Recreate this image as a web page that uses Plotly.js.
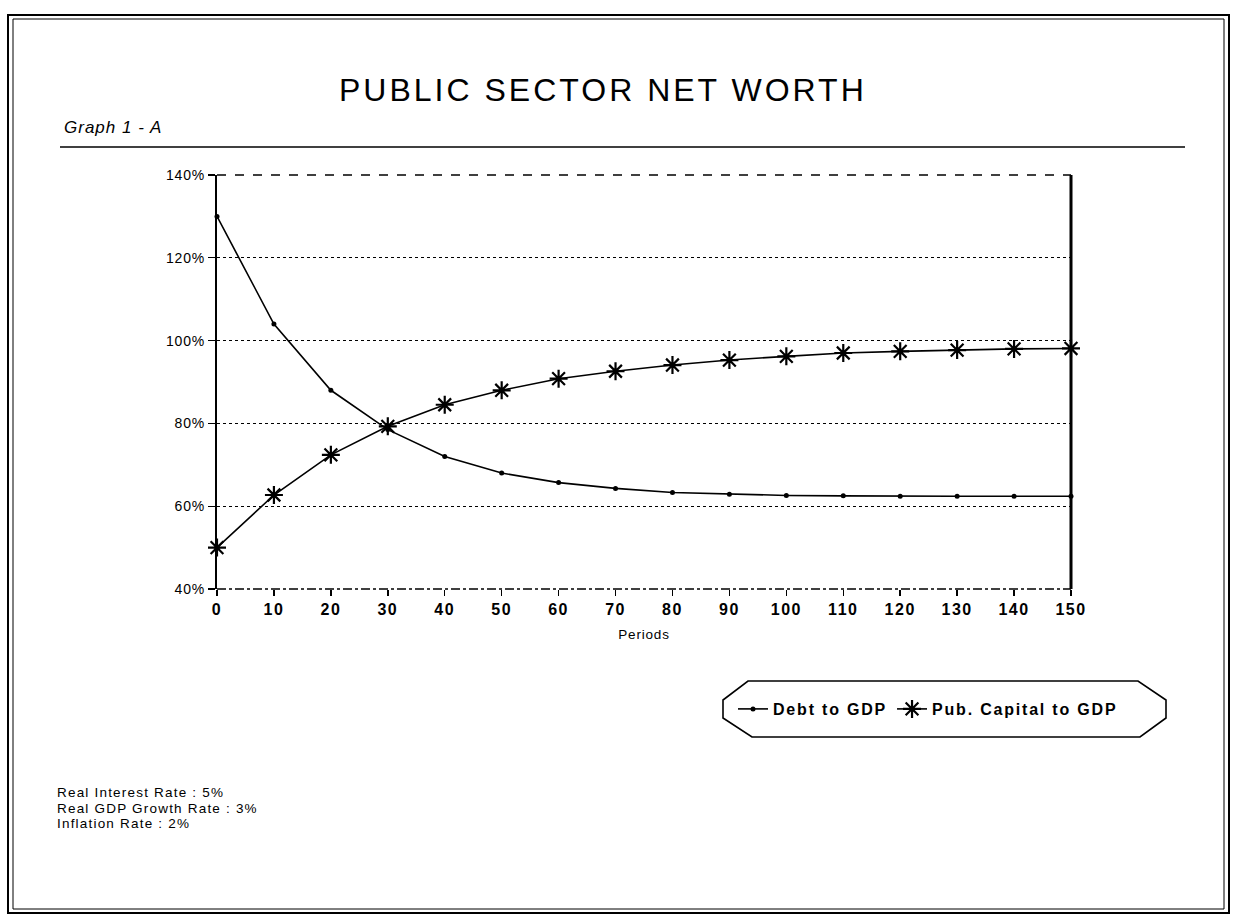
<!DOCTYPE html>
<html>
<head>
<meta charset="utf-8">
<script src="https://cdn.plot.ly/plotly-3.0.1.min.js"></script>
<style>
  html, body { margin: 0; padding: 0; background: #fff; }
  #chart { width: 1235px; height: 921px; }
</style>
</head>
<body>
<div id="chart"></div>
<script>
// ---- data ----
const periods = [0, 10, 20, 30, 40, 50, 60, 70, 80, 90, 100, 110, 120, 130, 140, 150];
const debtToGDP = [130, 104, 88, 78.5, 72, 68, 65.7, 64.3, 63.3, 62.9, 62.6, 62.5, 62.4, 62.4, 62.4, 62.4];
const capitalToGDP = [50, 62.7, 72.4, 79.3, 84.5, 88, 90.8, 92.6, 94.1, 95.3, 96.2, 97, 97.4, 97.7, 98, 98.1];
const yTickVals = [40, 60, 80, 100, 120, 140];
const yTickText = ['40%', '60%', '80%', '100%', '120%', '140%'];
const xTickVals = periods;
const seriesNames = ['Debt to GDP', 'Pub. Capital to GDP'];
const notes = ['Real Interest Rate : 5%', 'Real GDP Growth Rate : 3%', 'Inflation Rate : 2%'];
const chartTitle = 'PUBLIC SECTOR NET WORTH';
const graphLabel = 'Graph 1 - A';

// ---- layout helpers (pixel -> paper) ----
const W = 1235, H = 921;
const M = { l: 217, r: 164, t: 175, b: 332 };
const PW = W - M.l - M.r, PH = H - M.t - M.b;
const px = x => (x - M.l) / PW;
const py = y => (H - M.b - y) / PH;
const spaced = (t, s) => '<span style="letter-spacing:' + s + 'px">' + t + '</span>';

const traces = [
  {
    x: periods, y: debtToGDP, name: spaced(seriesNames[0], 1.8), type: 'scatter', mode: 'lines+markers',
    line: { color: '#000', width: 1.6 },
    marker: { symbol: 'circle', size: 5, color: '#000' },
    cliponaxis: false
  },
  {
    x: periods, y: capitalToGDP, name: spaced(seriesNames[1], 1.8), type: 'scatter', mode: 'lines+markers',
    line: { color: '#000', width: 1.6 },
    marker: { symbol: 'asterisk-open', size: 15, color: '#000', line: { color: '#000', width: 2.2 } },
    cliponaxis: false
  }
];

const font = 'Liberation Sans, Arial, sans-serif';

const shapes = [
  // outer double frame
  { type: 'rect', xref: 'paper', yref: 'paper', x0: px(8), x1: px(1229), y0: py(913), y1: py(15), line: { color: '#000', width: 2 } },
  { type: 'rect', xref: 'paper', yref: 'paper', x0: px(13), x1: px(1224), y0: py(909), y1: py(19), line: { color: '#000', width: 1 } },
  // rule under title
  { type: 'line', xref: 'paper', yref: 'paper', x0: px(60), x1: px(1185), y0: py(147), y1: py(147), line: { color: '#000', width: 1.5 } },
  // plot frame: top dashed, bottom dash-dot, right thick
  { type: 'line', xref: 'paper', yref: 'paper', x0: 0, x1: 1, y0: 1, y1: 1, line: { color: '#000', width: 1.3, dash: 'dash' } },
  { type: 'line', xref: 'paper', yref: 'paper', x0: 0, x1: 1, y0: 0, y1: 0, line: { color: '#000', width: 1.3, dash: 'dashdot' } },
  { type: 'line', xref: 'paper', yref: 'paper', x0: 1, x1: 1, y0: 0, y1: 1, line: { color: '#000', width: 3 } },
  // legend box (chamfered)
  { type: 'path', xref: 'paper', yref: 'paper',
    path: 'M ' + px(748) + ',' + py(681) + ' L ' + px(1138) + ',' + py(681) + ' L ' + px(1166) + ',' + py(700) +
          ' L ' + px(1166) + ',' + py(718) + ' L ' + px(1140) + ',' + py(737) + ' L ' + px(752) + ',' + py(737) +
          ' L ' + px(723) + ',' + py(718) + ' L ' + px(723) + ',' + py(700) + ' Z',
    line: { color: '#000', width: 1.6 } }
];

const annotations = [
  { xref: 'paper', yref: 'paper', x: px(62), y: py(128), xanchor: 'left', yanchor: 'middle', showarrow: false,
    text: '<i>' + spaced(graphLabel, 1) + '</i>', font: { family: font, size: 17, color: '#000' } },
  { xref: 'paper', yref: 'paper', x: px(603), y: py(90), xanchor: 'center', yanchor: 'middle', showarrow: false,
    text: spaced(chartTitle, 3), font: { family: font, size: 32, color: '#000' } }
];
notes.forEach((t, i) => {
  annotations.push({ xref: 'paper', yref: 'paper', x: px(55), y: py(792 + i * 16), xanchor: 'left', yanchor: 'middle',
    showarrow: false, text: spaced(t, 1.2), font: { family: font, size: 13.5, color: '#000' } });
});

const layout = {
  width: W, height: H,
  margin: M,
  paper_bgcolor: '#fff', plot_bgcolor: '#fff',
  showlegend: true,
  legend: {
    orientation: 'h', x: px(733), y: py(709), xanchor: 'left', yanchor: 'middle',
    bgcolor: 'rgba(0,0,0,0)', borderwidth: 0,
    font: { family: font, size: 16, color: '#000', weight: 'bold' },
    itemwidth: 30, tracegroupgap: 0
  },
  xaxis: {
    range: [0, 150], tickmode: 'array', tickvals: xTickVals, ticktext: xTickVals.map(v => spaced(String(v), 1.5)),
    showgrid: false, zeroline: false, showline: false,
    ticks: 'outside', ticklen: 6, tickwidth: 1.5, tickcolor: '#000',
    tickfont: { family: font, size: 16, color: '#000', weight: 'bold' },
    title: { text: spaced('Periods', 0.8), font: { family: font, size: 13.5, color: '#000' }, standoff: 12 }
  },
  yaxis: {
    range: [40, 140], tickmode: 'array', tickvals: yTickVals, ticktext: yTickText.map(t => spaced(t, 0.8)),
    showgrid: true, gridcolor: '#000', gridwidth: 1.3, griddash: 'dot',
    zeroline: false, showline: true, linecolor: '#000', linewidth: 2.2,
    ticks: 'outside', ticklen: 7, tickwidth: 1.3, tickcolor: '#000',
    tickfont: { family: font, size: 14, color: '#000' }
  },
  shapes: shapes,
  annotations: annotations
};

Plotly.newPlot('chart', traces, layout, { displayModeBar: false, staticPlot: true });
</script>
</body>
</html>
